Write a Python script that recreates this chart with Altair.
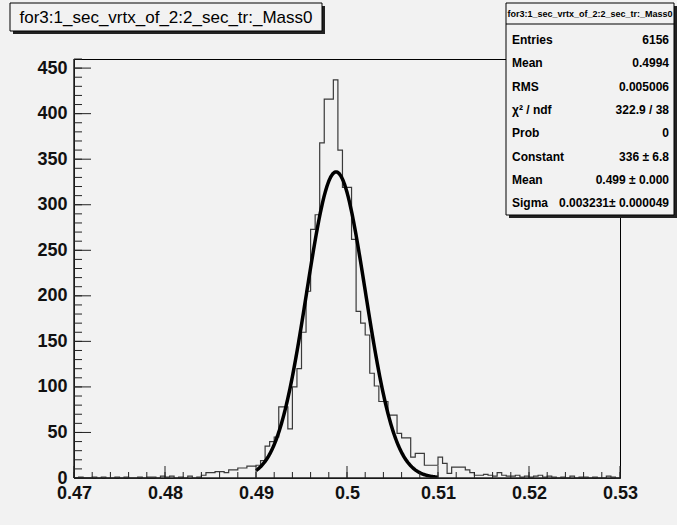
import altair as alt
import numpy as np
import pandas as pd

# ---------------- data ----------------
x_min, x_max, bin_width = 0.47, 0.53, 0.0005
counts = [
    # 0.470 - 0.480
    0, 1, 0, 0, 1, 0, 1, 0, 0, 1, 0, 1, 0, 0, 1, 0, 1, 1, 0, 2,
    # 0.480 - 0.490
    1, 2, 0, 1, 0, 2, 0, 1, 3, 6, 6, 7, 7, 6, 9, 9, 11, 11, 13, 13,
    # 0.490 - 0.500
    14, 19, 35, 40, 45, 78, 78, 54, 100, 120, 160, 205, 273, 289, 368, 416, 416, 437, 360, 319,
    # 0.500 - 0.510
    319, 262, 183, 170, 157, 115, 101, 84, 84, 69, 69, 49, 44, 44, 23, 27, 27, 14, 14, 14,
    # 0.510 - 0.520
    23, 16, 5, 12, 12, 12, 9, 6, 3, 3, 4, 3, 2, 6, 3, 2, 2, 3, 1, 2,
    # 0.520 - 0.530
    1, 2, 3, 1, 2, 1, 0, 1, 0, 2, 0, 1, 1, 0, 1, 0, 0, 2, 1, 0,
]

# Gaussian fit parameters (from the stats box)
fit_constant = 336.0
fit_mean = 0.4988
fit_sigma = 0.003231
fit_range = (0.49, 0.51)

title_text = "for3:1_sec_vrtx_of_2:2_sec_tr:_Mass0"
stats_labels = ["Entries", "Mean", "RMS", "χ² / ndf", "Prob", "Constant", "Mean", "Sigma"]
stats_values = ["6156", "0.4994", "0.005006", "322.9 / 38", "0",
                "336 ± 6.8", "0.499 ± 0.000", "0.003231± 0.000049"]

x_major = [0.47, 0.48, 0.49, 0.50, 0.51, 0.52, 0.53]
y_major = [0, 50, 100, 150, 200, 250, 300, 350, 400, 450]
y_max = 460

# ---------------- derived tables ----------------
edges = [round(x_min + i * bin_width, 6) for i in range(len(counts))]
hist_df = pd.DataFrame({"x": edges + [x_max], "y": counts + [counts[-1]]})

fx = np.linspace(fit_range[0], fit_range[1], 301)
fit_df = pd.DataFrame({"x": fx,
                       "y": fit_constant * np.exp(-0.5 * ((fx - fit_mean) / fit_sigma) ** 2)})

x_minor_df = pd.DataFrame({"x": np.round(np.arange(x_min, x_max + 1e-9, 0.002), 4)})
x_major_df = pd.DataFrame({"x": x_major})
y_minor_df = pd.DataFrame({"y": list(range(0, y_max + 1, 10))})
y_major_df = pd.DataFrame({"y": y_major})

# ---------------- layout ----------------
W, H = 546, 419
L, T = 74, 59
BG = "#f2f2f2"
FONT = "Liberation Sans"

xs = alt.Scale(domain=[x_min, x_max], nice=False, zero=False)
ys = alt.Scale(domain=[0, y_max], nice=False, zero=False)

one = pd.DataFrame({"a": [0]})


def px(v):
    return alt.value(v - L)


def py(v):
    return alt.value(v - T)


hist = alt.Chart(hist_df).mark_line(
    interpolate="step-after", color="#3a3a3a", strokeWidth=1.2
).encode(
    x=alt.X("x:Q", scale=xs, axis=alt.Axis(
        values=x_major, format=".2~f", labelFont=FONT, labelFontWeight="bold",
        labelFontSize=18, labelColor="#111", ticks=False, domain=False, grid=False,
        labelPadding=6, labelFlush=False, labelOverlap=False, title=None)),
    y=alt.Y("y:Q", scale=ys, axis=alt.Axis(
        values=y_major, format="d", labelFont=FONT, labelFontWeight="bold",
        labelFontSize=18, labelColor="#111", ticks=False, domain=False, grid=False,
        labelPadding=7, labelFlush=False, labelOverlap=False, title=None)),
)

fit = alt.Chart(fit_df).mark_line(color="black", strokeWidth=3.5).encode(
    x=alt.X("x:Q", scale=xs), y=alt.Y("y:Q", scale=ys)
)

tick_col = "#222"
xminor = alt.Chart(x_minor_df).mark_rule(color=tick_col, strokeWidth=1).encode(
    x=alt.X("x:Q", scale=xs), y=alt.value(H), y2=alt.value(H - 6))
xmajor = alt.Chart(x_major_df).mark_rule(color=tick_col, strokeWidth=1).encode(
    x=alt.X("x:Q", scale=xs), y=alt.value(H), y2=alt.value(H - 12))
yminor = alt.Chart(y_minor_df).mark_rule(color=tick_col, strokeWidth=1).encode(
    y=alt.Y("y:Q", scale=ys), x=alt.value(0), x2=alt.value(8))
ymajor = alt.Chart(y_major_df).mark_rule(color=tick_col, strokeWidth=1).encode(
    y=alt.Y("y:Q", scale=ys), x=alt.value(0), x2=alt.value(17))

axis_left = alt.Chart(one).mark_rule(color="#222", strokeWidth=1.5).encode(
    x=alt.value(0), x2=alt.value(0), y=alt.value(0), y2=alt.value(H))
axis_bottom = alt.Chart(one).mark_rule(color="#222", strokeWidth=1.5).encode(
    x=alt.value(0), x2=alt.value(W), y=alt.value(H), y2=alt.value(H))

layers = [hist, fit, xminor, xmajor, yminor, ymajor, axis_left, axis_bottom]

# title box
layers.append(alt.Chart(one).mark_rect(fill="#222").encode(
    x=px(13), x2=px(325), y=py(6), y2=py(34)))
layers.append(alt.Chart(one).mark_rect(fill=BG, stroke="black", strokeWidth=1).encode(
    x=px(10), x2=px(322), y=py(3), y2=py(31)))
layers.append(alt.Chart(pd.DataFrame({"t": [title_text]})).mark_text(
    font=FONT, fontSize=17, color="black",
    align="center", baseline="middle").encode(x=px(166), y=py(18), text="t:N"))

# stats box
layers.append(alt.Chart(one).mark_rect(fill="#222").encode(
    x=px(509), x2=px(677), y=py(6), y2=py(218)))
layers.append(alt.Chart(one).mark_rect(fill=BG, stroke="black", strokeWidth=1).encode(
    x=px(506), x2=px(674), y=py(3), y2=py(215)))
layers.append(alt.Chart(one).mark_rule(color="black", strokeWidth=1).encode(
    x=px(506), x2=px(674), y=py(24), y2=py(24)))
layers.append(alt.Chart(pd.DataFrame({"t": [title_text]})).mark_text(
    font=FONT, fontSize=9, fontWeight="bold", color="black",
    align="center", baseline="middle").encode(x=px(590), y=py(14), text="t:N"))

row_y0, row_dy = 40, 23.3
for k, (lab, val) in enumerate(zip(stats_labels, stats_values)):
    yy = row_y0 + k * row_dy
    layers.append(alt.Chart(pd.DataFrame({"t": [lab]})).mark_text(
        font=FONT, fontSize=12, fontWeight="bold", color="black",
        align="left", baseline="middle").encode(x=px(512), y=py(yy), text="t:N"))
    layers.append(alt.Chart(pd.DataFrame({"t": [val]})).mark_text(
        font=FONT, fontSize=12, fontWeight="bold", color="black",
        align="right", baseline="middle").encode(x=px(669), y=py(yy), text="t:N"))

chart = alt.layer(*layers).properties(
    width=W, height=H,
    padding={"left": L, "top": T, "right": 677 - L - W, "bottom": 525 - T - H},
    autosize=alt.AutoSizeParams(type="none"),
    background=BG,
).configure_view(stroke="black", strokeWidth=1)

chart.save("out.html", embed_options={"renderer": "svg", "actions": False})
